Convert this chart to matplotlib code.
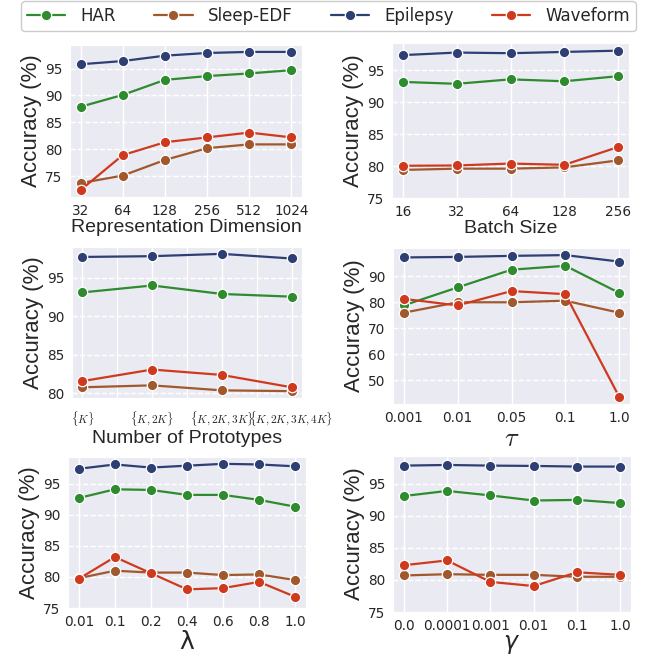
import matplotlib
matplotlib.use("Agg")
import matplotlib.pyplot as plt
import seaborn as sns
from matplotlib.ticker import FixedLocator

sns.set_style("darkgrid")
plt.rcParams["font.family"] = ["DejaVu Sans"]

LABEL_FONT = ["Liberation Sans", "DejaVu Sans"]

series_names = ["HAR", "Sleep-EDF", "Epilepsy", "Waveform"]
series_colors = ["#2e8b2e", "#a0582c", "#2d3f73", "#cf3a1f"]

# representation dimension
dim_labels = ["32", "64", "128", "256", "512", "1024"]
dim_har = [87.9, 90.1, 92.9, 93.6, 94.1, 94.7]
dim_sleep = [73.7, 75.1, 78.0, 80.2, 80.9, 80.9]
dim_epi = [95.8, 96.4, 97.4, 97.9, 98.1, 98.1]
dim_wave = [72.4, 78.9, 81.3, 82.2, 83.1, 82.2]

# batch size
bs_labels = ["16", "32", "64", "128", "256"]
bs_har = [93.2, 92.9, 93.6, 93.3, 94.1]
bs_sleep = [79.4, 79.6, 79.6, 79.8, 80.9]
bs_epi = [97.4, 97.8, 97.7, 97.9, 98.1]
bs_wave = [80.05, 80.1, 80.4, 80.2, 83.0]

# number of prototypes
proto_labels = [r"$\{K\}$", r"$\{K,2K\}$", r"$\{K,2K,3K\}$", r"$\{K,2K,3K,4K\}$"]
proto_har = [93.1, 94.0, 92.9, 92.55]
proto_sleep = [80.8, 81.05, 80.4, 80.3]
proto_epi = [97.7, 97.8, 98.1, 97.5]
proto_wave = [81.6, 83.1, 82.4, 80.8]

# temperature tau
tau_labels = ["0.001", "0.01", "0.05", "0.1", "1.0"]
tau_har = [78.8, 85.7, 92.5, 94.0, 83.6]
tau_sleep = [76.0, 80.0, 80.0, 80.6, 76.0]
tau_epi = [97.2, 97.4, 97.8, 98.1, 95.6]
tau_wave = [81.3, 78.8, 84.3, 83.1, 43.7]

# lambda
lam_labels = ["0.01", "0.1", "0.2", "0.4", "0.6", "0.8", "1.0"]
lam_har = [92.7, 94.1, 94.0, 93.2, 93.2, 92.4, 91.3]
lam_sleep = [79.8, 81.0, 80.7, 80.7, 80.3, 80.4, 79.5]
lam_epi = [97.4, 98.1, 97.6, 97.9, 98.2, 98.1, 97.8]
lam_wave = [79.7, 83.2, 80.6, 78.0, 78.2, 79.2, 76.8]

# gamma
gam_labels = ["0.0", "0.0001", "0.001", "0.01", "0.1", "1.0"]
gam_har = [93.1, 93.9, 93.2, 92.4, 92.5, 92.0]
gam_sleep = [80.7, 80.9, 80.8, 80.8, 80.5, 80.5]
gam_epi = [97.85, 97.95, 97.85, 97.8, 97.7, 97.7]
gam_wave = [82.3, 83.05, 79.7, 79.05, 81.2, 80.8]


def draw_panel(fig, rect, labels, values, xlabel, xlabel_kw=None, ylim=None,
               tick_kw=None, yticks=None, xlabelpad=1):
    ax = fig.add_axes(rect)
    xs = list(range(len(labels)))
    for name, color, ys in zip(series_names, series_colors, values):
        ax.plot(xs, ys, color=color, lw=1.6, marker="o", markersize=7.5,
                markeredgecolor="white", markeredgewidth=0.9, label=name)
    ax.set_xticks(xs)
    ax.set_xticklabels(labels, **(tick_kw or {"fontsize": 9.8}))
    if ylim is not None:
        ax.set_ylim(*ylim)
    if yticks is not None:
        ax.set_yticks(yticks)
    ax.tick_params(axis="y", labelsize=9.8, pad=2)
    ax.tick_params(axis="x", pad=1.5)
    ax.tick_params(colors="#262626")
    ax.grid(axis="y", linestyle="--", color="white", lw=1.0)
    ax.grid(axis="x", linestyle="-", color="white", lw=1.0)
    ax.set_ylabel("Accuracy (%)", fontsize=16, family=LABEL_FONT, labelpad=2)
    ax.set_xlabel(xlabel, labelpad=xlabelpad,
                  **(xlabel_kw or {"fontsize": 14, "family": LABEL_FONT}))
    return ax


def main() -> None:
    fig = plt.figure(figsize=(6.57, 6.57), dpi=100)
    W = 657.0

    def rect(x0, x1, y0, y1):
        return [x0 / W, (W - y1) / W, (x1 - x0) / W, (y1 - y0) / W]

    ax1 = draw_panel(fig, rect(70, 302, 45, 197), dim_labels,
                     [dim_har, dim_sleep, dim_epi, dim_wave],
                     "Representation Dimension", yticks=[75, 80, 85, 90, 95])

    draw_panel(fig, rect(392, 629, 43, 198), bs_labels,
               [bs_har, bs_sleep, bs_epi, bs_wave], "Batch Size",
               ylim=(75, 99.3), yticks=[75, 80, 85, 90, 95])

    ax3 = draw_panel(fig, rect(72, 302, 247, 398), proto_labels,
                     [proto_har, proto_sleep, proto_epi, proto_wave],
                     "Number of Prototypes", yticks=[80, 85, 90, 95],
                     tick_kw={"fontsize": 8.1, "math_fontfamily": "cm"})
    ax3.xaxis.set_minor_locator(FixedLocator([0.5, 1.5, 2.5]))
    ax3.grid(axis="x", which="minor", linestyle="-", color="white", lw=0.8)
    ax3.tick_params(axis="x", which="minor", length=0)
    ax3.tick_params(axis="x", pad=5)

    draw_panel(fig, rect(393, 630, 248, 404), tau_labels,
               [tau_har, tau_sleep, tau_epi, tau_wave], r"$\tau$",
               xlabel_kw={"fontsize": 19, "math_fontfamily": "cm"},
               yticks=[50, 60, 70, 80, 90])

    draw_panel(fig, rect(68, 306, 457, 608), lam_labels,
               [lam_har, lam_sleep, lam_epi, lam_wave], "λ",
               xlabel_kw={"fontsize": 18}, ylim=(75, 99.3),
               yticks=[75, 80, 85, 90, 95])

    draw_panel(fig, rect(393, 631, 456, 612), gam_labels,
               [gam_har, gam_sleep, gam_epi, gam_wave], r"$\gamma$",
               xlabel_kw={"fontsize": 17}, ylim=(75, 99.35),
               yticks=[75, 80, 85, 90, 95], xlabelpad=-1)

    handles, names = ax1.get_legend_handles_labels()
    fig.legend(handles, names, loc="upper center", bbox_to_anchor=(0.500, 1.003),
               ncol=4, fontsize=12, frameon=True, handlelength=2.3,
               handletextpad=0.9, columnspacing=2.3, borderpad=0.35,
               borderaxespad=0.2, facecolor="white", edgecolor="#cccccc",
               framealpha=1.0)

    fig.savefig("out.png", dpi=100)
    plt.close(fig)


if __name__ == "__main__":
    main()
